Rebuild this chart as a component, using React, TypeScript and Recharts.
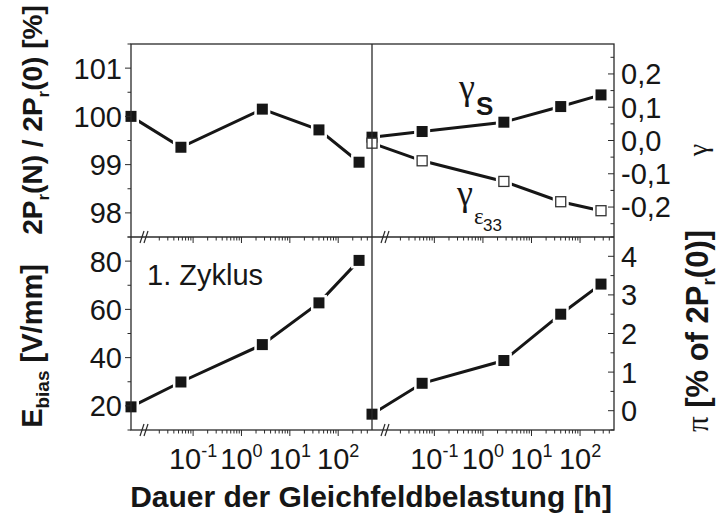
import React from 'react';
import { LineChart, Line, XAxis, YAxis } from 'recharts';

const W = 722;
const H = 520;
const SANS = '"Liberation Sans", Arial, Helvetica, sans-serif';
const SERIF = '"Liberation Serif", "Times New Roman", serif';
const INK = '#161616';
const AXIS = '#2a2a2a';

// ---- data (durations in hours; 0 = initial state, drawn at the axis break) ----
const durationHours = [0, 0.056, 2.7, 40, 270];
const pr2Ratio = [100.0, 99.36, 100.15, 99.72, 99.05];
const eBias = [19.6, 29.9, 45.4, 62.7, 80.3];
const gammaS = [0.01, 0.027, 0.055, 0.102, 0.137];
const gammaEps33 = [-0.008, -0.061, -0.123, -0.184, -0.211];
const piShare = [-0.09, 0.71, 1.3, 2.5, 3.28];

// ---- axes ----
const xDomain = [0.0052, 500];
const xMajorTicks = [0.1, 1, 10, 100];
const xMinorTicks = [
  0.02, 0.03, 0.04, 0.05, 0.06, 0.07, 0.08, 0.09,
  0.2, 0.3, 0.4, 0.5, 0.6, 0.7, 0.8, 0.9,
  2, 3, 4, 5, 6, 7, 8, 9,
  20, 30, 40, 50, 60, 70, 80, 90,
  200, 300, 400,
];
const xTickExponents = ['-1', '0', '1', '2'];

const ratioDomain = [97.5, 101.5];
const ratioMajor = [98, 99, 100, 101];
const ratioMinor = [97.5, 98.5, 99.5, 100.5, 101.5];

const eBiasDomain = [10, 90];
const eBiasMajor = [20, 40, 60, 80];
const eBiasMinor = [10, 30, 50, 70, 90];

const gammaDomain = [-0.29, 0.29];
const gammaMajor = [-0.2, -0.1, 0, 0.1, 0.2];
const gammaMinor = [-0.25, -0.15, -0.05, 0.05, 0.15, 0.25];

const piDomain = [-0.5, 4.5];
const piMajor = [0, 1, 2, 3, 4];
const piMinor = [-0.5, 0.5, 1.5, 2.5, 3.5, 4.5];

const rows = durationHours.map((d, i) => ({
  t: d === 0 ? xDomain[0] : d,
  ratio: pr2Ratio[i],
  ebias: eBias[i],
  gs: gammaS[i],
  ge: gammaEps33[i],
  pi: piShare[i],
}));

type Series = { key: string; filled: boolean };
type PanelDef = {
  id: string;
  left: number;
  top: number;
  right: number;
  bottom: number;
  side: 'left' | 'right';
  domain: number[];
  major: number[];
  minor: number[];
  fmt: (v: number) => string;
  xLabels: boolean;
  series: Series[];
};

const commaFmt = (v: number) => v.toFixed(1).replace('.', ',');
const plainFmt = (v: number) => String(v);

const panels: PanelDef[] = [
  { id: 'tl', left: 131, top: 44, right: 372, bottom: 237, side: 'left', domain: ratioDomain, major: ratioMajor, minor: ratioMinor, fmt: plainFmt, xLabels: false, series: [{ key: 'ratio', filled: true }] },
  { id: 'tr', left: 372, top: 44, right: 614, bottom: 237, side: 'right', domain: gammaDomain, major: gammaMajor, minor: gammaMinor, fmt: commaFmt, xLabels: false, series: [{ key: 'gs', filled: true }, { key: 'ge', filled: false }] },
  { id: 'bl', left: 131, top: 237, right: 372, bottom: 430, side: 'left', domain: eBiasDomain, major: eBiasMajor, minor: eBiasMinor, fmt: plainFmt, xLabels: true, series: [{ key: 'ebias', filled: true }] },
  { id: 'br', left: 372, top: 237, right: 614, bottom: 430, side: 'right', domain: piDomain, major: piMajor, minor: piMinor, fmt: plainFmt, xLabels: true, series: [{ key: 'pi', filled: true }] },
];

const XTick = (props: any) => {
  const { x, y, payload, showLabels } = props;
  const v = payload.value;
  const mi = xMajorTicks.indexOf(v);
  const isMajor = mi >= 0;
  return (
    <g>
      <line x1={x} x2={x} y1={y} y2={y + (isMajor ? 6 : 3.5)} stroke={AXIS} strokeWidth={1} />
      {isMajor && showLabels ? (
        <text x={x} y={y + 39} textAnchor="middle" fontFamily={SANS} fontSize={29} fill={INK}>
          10
          <tspan dy={-12} fontSize={18}>{xTickExponents[mi]}</tspan>
        </text>
      ) : null}
    </g>
  );
};

const YTick = (props: any) => {
  const { x, y, payload, side, majors, fmt } = props;
  const v = payload.value;
  const isMajor = majors.indexOf(v) >= 0;
  const len = isMajor ? 6 : 3.5;
  return (
    <g>
      <line x1={x} x2={x - len} y1={y} y2={y} stroke={AXIS} strokeWidth={1} />
      {isMajor ? (
        <text
          x={side === 'left' ? x - 9 : x + 7}
          y={y}
          dy="0.36em"
          textAnchor={side === 'left' ? 'end' : 'start'}
          fontFamily={SANS}
          fontSize={29}
          fill={INK}
        >
          {fmt(v)}
        </text>
      ) : null}
    </g>
  );
};

const haloDot = (p: any) => {
  if (p.cx == null || p.cy == null) return <g key={p.index} />;
  return <rect key={p.index} x={p.cx - 8} y={p.cy - 8} width={16} height={16} fill="#ffffff" />;
};

const markerDot = (filled: boolean) => (p: any) => {
  if (p.cx == null || p.cy == null) return <g key={p.index} />;
  return filled ? (
    <rect key={p.index} x={p.cx - 5.5} y={p.cy - 5.5} width={11} height={11} fill={INK} />
  ) : (
    <rect key={p.index} x={p.cx - 5} y={p.cy - 5} width={10} height={10} fill="#ffffff" stroke="#333" strokeWidth={1.3} />
  );
};

const YW = 60;
const XH = 30;

function Panel({ def }: { def: PanelDef }) {
  const margin = {
    top: def.top,
    bottom: H - def.bottom - XH,
    left: def.side === 'left' ? def.left - YW : def.left,
    right: def.side === 'right' ? W - def.right - YW : W - def.right,
  };
  const yTicks = [...def.major, ...def.minor];
  return (
    <div style={{ position: 'absolute', left: 0, top: 0 }}>
      <LineChart width={W} height={H} data={rows} margin={margin}>
        <XAxis
          dataKey="t"
          type="number"
          scale="log"
          domain={xDomain}
          ticks={[...xMajorTicks, ...xMinorTicks]}
          interval={0}
          tickSize={0}
          tickMargin={0}
          axisLine={false}
          tickLine={false}
          height={XH}
          tick={(p: any) => <XTick x={p.x} y={p.y} payload={p.payload} showLabels={def.xLabels} />}
        />
        <YAxis
          type="number"
          orientation={def.side}
          domain={def.domain}
          ticks={yTicks}
          interval={0}
          tickSize={0}
          tickMargin={0}
          axisLine={false}
          tickLine={false}
          width={YW}
          tick={(p: any) => (
            <YTick x={p.x} y={p.y} payload={p.payload} side={def.side} majors={def.major} fmt={def.fmt} />
          )}
        />
        {def.series.map((s) => (
          <Line
            key={'l-' + s.key}
            dataKey={s.key}
            stroke={INK}
            strokeWidth={3}
            dot={false}
            activeDot={false}
            isAnimationActive={false}
          />
        ))}
        {def.series.map((s) => (
          <Line
            key={'h-' + s.key}
            dataKey={s.key}
            stroke="none"
            dot={haloDot}
            activeDot={false}
            isAnimationActive={false}
          />
        ))}
        {def.series.map((s) => (
          <Line
            key={'m-' + s.key}
            dataKey={s.key}
            stroke="none"
            dot={markerDot(s.filled)}
            activeDot={false}
            isAnimationActive={false}
          />
        ))}
      </LineChart>
    </div>
  );
}

function BreakMark({ x, y }: { x: number; y: number }) {
  return (
    <g stroke={AXIS} strokeWidth={1.2}>
      <line x1={x - 4} y1={y + 6} x2={x} y2={y - 6} />
      <line x1={x} y1={y + 6} x2={x + 4} y2={y - 6} />
    </g>
  );
}

export default function App() {
  return (
    <div style={{ position: 'absolute', left: 0, top: 0, width: W, height: H, background: '#ffffff' }}>
      {panels.map((p) => (
        <Panel key={p.id} def={p} />
      ))}
      <svg width={W} height={H} style={{ position: 'absolute', left: 0, top: 0, pointerEvents: 'none' }}>
        {/* frame */}
        <g stroke={AXIS} strokeWidth={1.3} fill="none">
          <rect x={131} y={44} width={483} height={386} />
          <line x1={372} y1={44} x2={372} y2={430} />
          <line x1={131} y1={237} x2={614} y2={237} />
        </g>
        <BreakMark x={144} y={237} />
        <BreakMark x={144} y={430} />
        <BreakMark x={385} y={237} />
        <BreakMark x={385} y={430} />

        {/* annotations */}
        <text x={147} y={285} fontFamily={SANS} fontSize={29} fill={INK}>1. Zyklus</text>
        <text x={459} y={99} fontFamily={SERIF} fontSize={36} fill={INK}>γ</text>
        <text x={476} y={115} fontFamily={SANS} fontWeight="bold" fontSize={26} fill={INK}>S</text>
        <text x={457} y={205} fontFamily={SERIF} fontSize={36} fill={INK}>γ</text>
        <text x={474} y={224} fontFamily={SERIF} fontSize={23} fill={INK}>ε</text>
        <text x={483} y={231} fontFamily={SANS} fontSize={17} fill={INK}>33</text>

        {/* axis titles */}
        <text
          transform="translate(42,120) rotate(-90)"
          textAnchor="middle"
          fontFamily={SANS}
          fontWeight="bold"
          fontSize={28}
          fill={INK}
        >
          2P<tspan dy={7} fontSize={17}>r</tspan>
          <tspan dy={-7}>(N) / 2P</tspan>
          <tspan dy={7} fontSize={17}>r</tspan>
          <tspan dy={-7}>(0) [%]</tspan>
        </text>
        <text
          transform="translate(42,346) rotate(-90)"
          textAnchor="middle"
          fontFamily={SANS}
          fontWeight="bold"
          fontSize={29}
          fill={INK}
        >
          E<tspan dy={7} fontSize={19}>bias</tspan>
          <tspan dy={-7}> [V/mm]</tspan>
        </text>
        <text x={371} y={507} textAnchor="middle" fontFamily={SANS} fontWeight="bold" fontSize={30} fill={INK}>
          Dauer der Gleichfeldbelastung [h]
        </text>
        <text
          transform="translate(707,150) rotate(-90)"
          textAnchor="middle"
          fontFamily={SERIF}
          fontSize={28}
          fill={INK}
        >
          γ
        </text>
        <text
          transform="translate(708,331) rotate(-90)"
          textAnchor="middle"
          fontFamily={SANS}
          fontWeight="bold"
          fontSize={31}
          fill={INK}
        >
          <tspan fontFamily={SERIF} fontWeight="normal">π</tspan>
          <tspan> [% of 2P</tspan>
          <tspan dy={7} fontSize={19}>r</tspan>
          <tspan dy={-7}>(0)]</tspan>
        </text>
      </svg>
    </div>
  );
}
